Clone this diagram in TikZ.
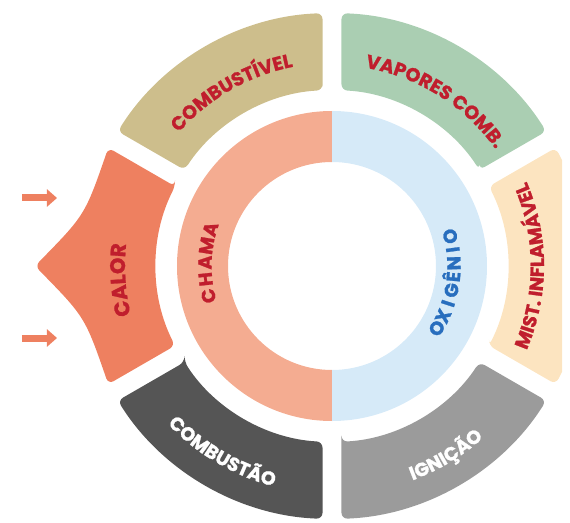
\documentclass[tikz,border=0pt]{standalone}
\usepackage{fontspec}
\setmainfont{Poppins}[BoldFeatures={FakeBold=1.2}]
\usetikzlibrary{decorations.text,arrows.meta}

\definecolor{combc}{RGB}{205,190,140}
\definecolor{vapc}{RGB}{170,206,178}
\definecolor{mistc}{RGB}{252,228,192}
\definecolor{ignc}{RGB}{155,155,155}
\definecolor{queimc}{RGB}{85,85,85}
\definecolor{calorc}{RGB}{238,128,96}
\definecolor{chamac}{RGB}{244,172,145}
\definecolor{oxic}{RGB}{214,234,248}
\definecolor{txtred}{RGB}{192,30,45}
\definecolor{txtblue}{RGB}{40,110,190}

\newcommand{\segred}{\fontsize{19}{19}\selectfont\bfseries\color{txtred}}
\newcommand{\segwhite}{\fontsize{19}{19}\selectfont\bfseries\color{white}}
\newcommand{\calred}{\fontsize{21}{21}\selectfont\bfseries\color{txtred}}
\def\gap{9.5}
\def\rin{176}
\def\rout{253}

\begin{document}
\begin{tikzpicture}[x=1pt, y=1pt, seg/.style={rounded corners=6pt}, letter/.style={inner sep=0pt, text height=0.72em, text depth=0pt, font=\fontsize{19}{19}\selectfont\bfseries}, arr/.style={-{Triangle[length=10pt,width=17pt]}, line width=7pt, calorc}, lbl/.style={decorate, decoration={text along path, text align=center, text={#1}}}]
                \useasboundingbox (-332,-256) rectangle (238,266);
                \begin{scope}
                \clip (-332,-256) rectangle (230,266);
                % outer ring
                \foreach \a/\col in {-30/mistc, 30/vapc, 90/combc, 210/queimc, 270/ignc}
                    \fill[\col, seg] ({\a+asin(\gap/\rin)}:\rin) -- ({\a+asin(\gap/\rout)}:\rout) arc[start angle={\a+asin(\gap/\rout)}, end angle={\a+60-asin(\gap/\rout)}, radius=\rout] -- ({\a+60-asin(\gap/\rin)}:\rin) arc[start angle={\a+60-asin(\gap/\rin)}, end angle={\a+asin(\gap/\rin)}, radius=\rin] -- cycle;
                \fill[calorc, seg] ({150+asin(\gap/\rin)}:\rin) -- ({150+asin(\gap/\rout)}:\rout) .. controls (-247,51) .. (-297,0) .. controls (-247,-51) .. ({210-asin(\gap/\rout)}:\rout) -- ({210-asin(\gap/\rin)}:\rin) arc[start angle={210-asin(\gap/\rin)}, end angle={150+asin(\gap/\rin)}, radius=\rin] -- cycle;
                \end{scope}
                % inner ring
                \fill[chamac] (90:155) arc[start angle=90, end angle=270, radius=155] -- (270:104) arc[start angle=270, end angle=90, radius=104] -- cycle;
                \fill[oxic] (-90:155) arc[start angle=-90, end angle=90, radius=155] -- (90:104) arc[start angle=90, end angle=-90, radius=104] -- cycle;
                % labels
                \path[lbl={|\segred|COMBUSTÍVEL}] (150:203) arc[start angle=150, end angle=90, radius=203];
                \path[lbl={|\segred|VAPORES COMB.}] (88:201) arc[start angle=88, end angle=28, radius=201];
                \path[lbl={|\segred|MIST. INFLAMÁVEL}] (-30:212) arc[start angle=-30, end angle=30, radius=212];
                \path[lbl={|\segwhite|IGNIÇÃO}] (271:229) arc[start angle=271, end angle=331, radius=229];
                \path[lbl={|\segwhite|COMBUSTÃO}] (209.5:228) arc[start angle=209.5, end angle=269.5, radius=228];
                \path[lbl={|\calred|CALOR}] (213.8:207) arc[start angle=213.8, end angle=153.8, radius=207];
                \foreach \ch [count=\i] in {C,H,A,M,A}
                    \node[letter, txtred, rotate={178.4+(3-\i)*7.6-90}] (ch\i) at ({178.4+(3-\i)*7.6}:124) {\ch};
                \foreach \ch [count=\i] in {O,X,I,G,Ê,N,I,O}
                    \node[letter, txtblue, rotate={-8.3+(\i-4.5)*6.4+90}] (ox\i) at ({-8.3+(\i-4.5)*6.4}:125) {\ch};
                % arrows
                \coordinate (a1) at (-310,68);
                \coordinate (b1) at (-275,68);
                \coordinate (a2) at (-310,-72);
                \coordinate (b2) at (-275,-72);
                \draw[arr] (a1) -- (b1);
                \draw[arr] (a2) -- (b2);
            \end{tikzpicture}
\end{document}
